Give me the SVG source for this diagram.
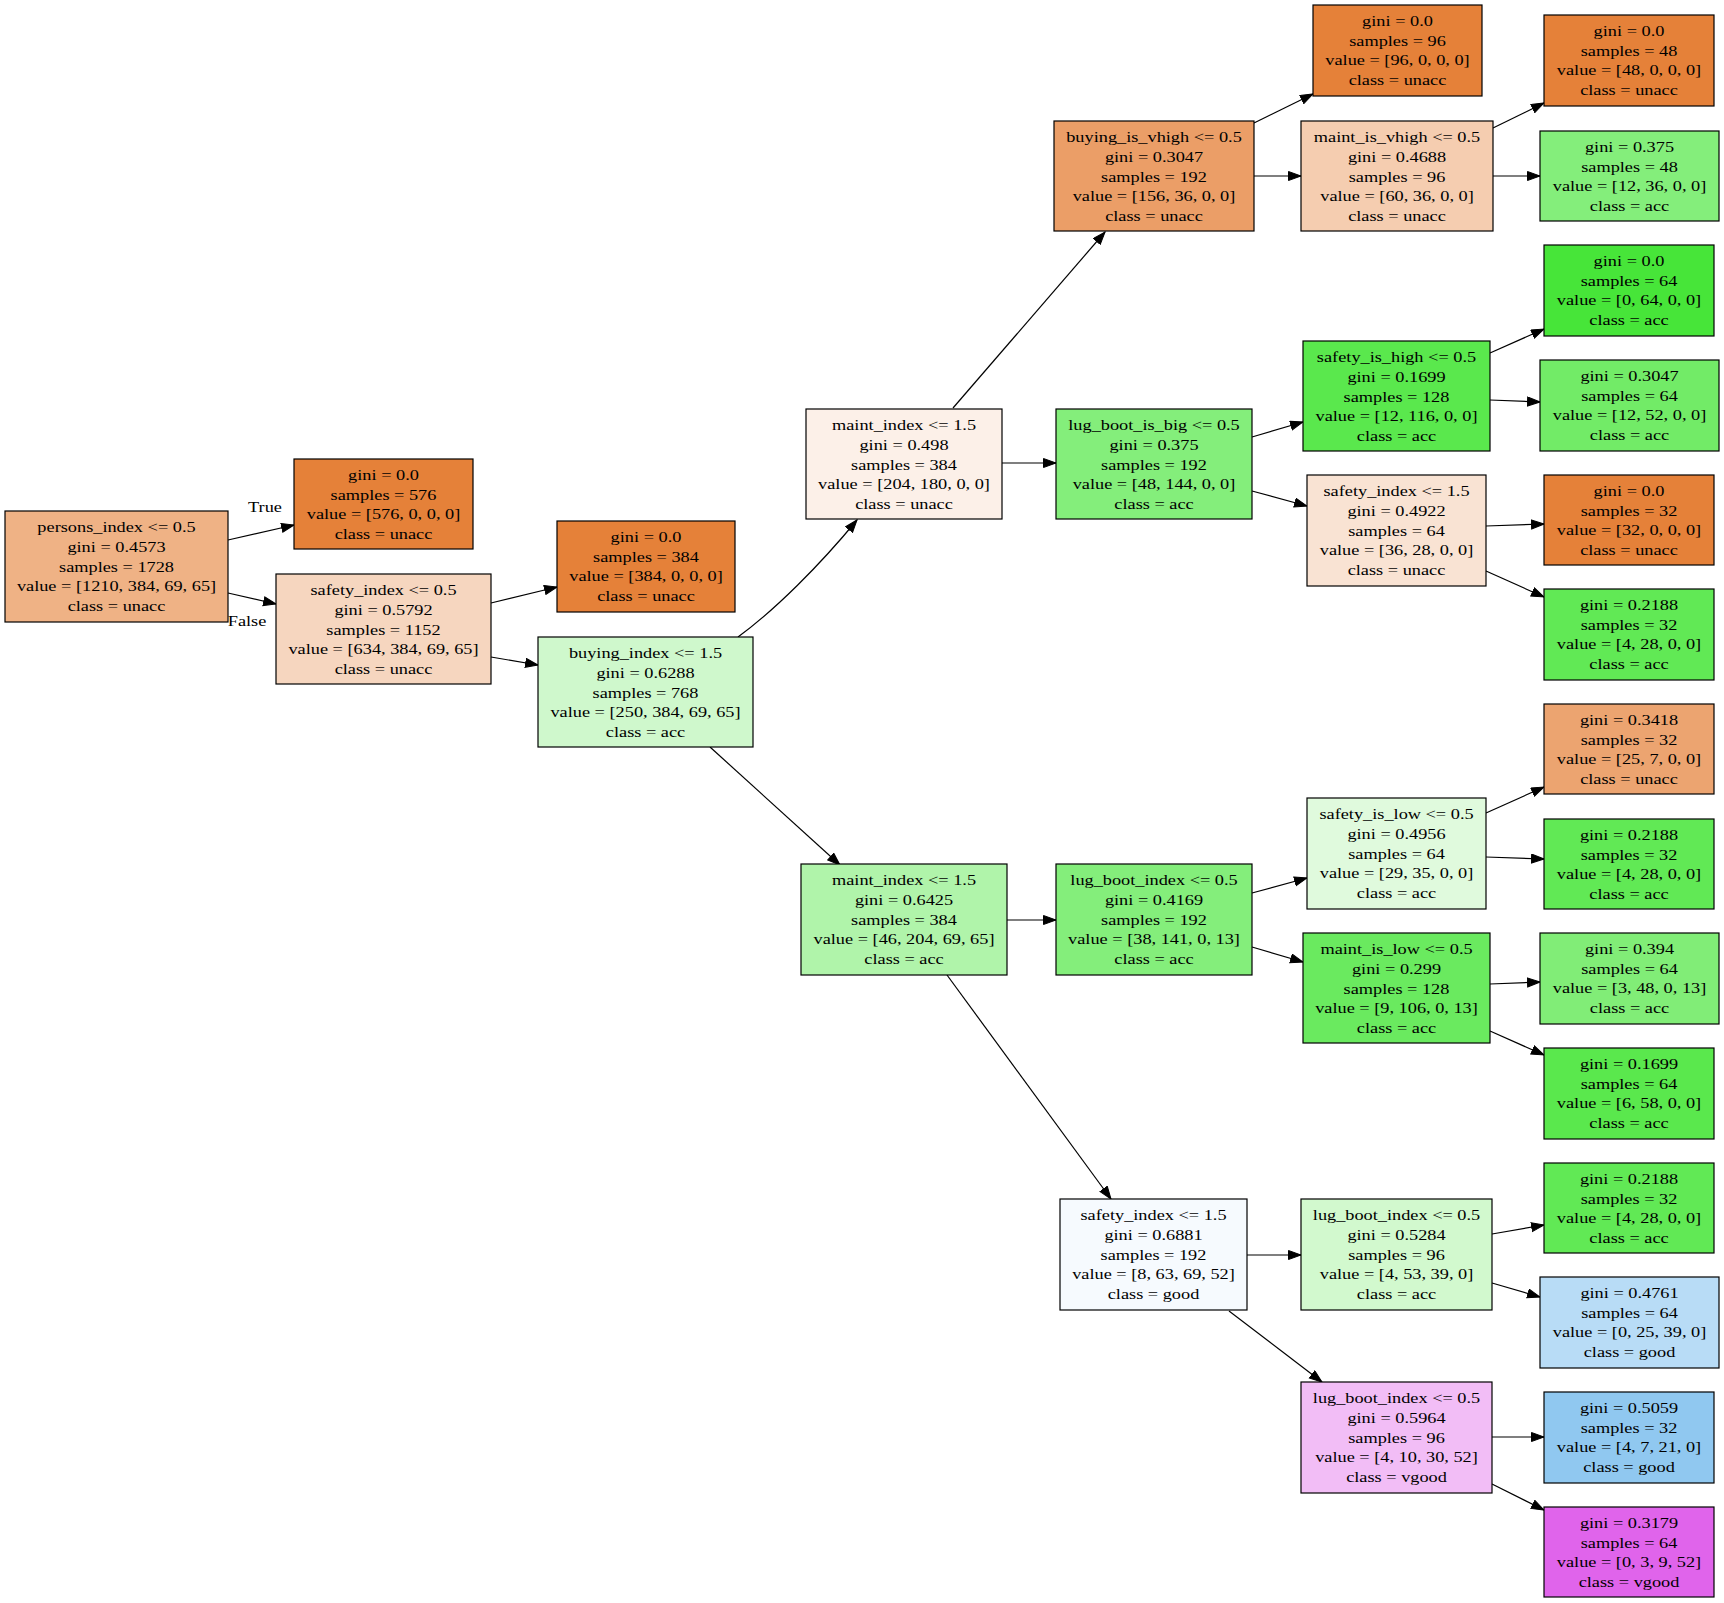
<svg xmlns="http://www.w3.org/2000/svg" width="1724" height="1603" viewBox="0 0 1724 1603">
<defs>
<style>
.nd rect{stroke:#000;stroke-width:1.2}
text{font-family:"Liberation Serif","Times New Roman",serif;font-size:15px;text-anchor:middle;fill:#000}
.e{stroke:#000;stroke-width:1.2;fill:none;marker-end:url(#ah)}
</style>
<marker id="ah" markerUnits="userSpaceOnUse" markerWidth="14" markerHeight="11" refX="13" refY="5" orient="auto"><path d="M0.5,0.5 L13,5 L0.5,9.5 z" fill="#000" stroke="#000" stroke-width="1"/></marker>
</defs>
<rect x="0" y="0" width="1724" height="1603" fill="#fff"/>
<g id="edges">
<line class="e" x1="228" y1="540" x2="294" y2="525"/>
<line class="e" x1="228" y1="593" x2="276" y2="604"/>
<line class="e" x1="491" y1="603" x2="557" y2="587"/>
<line class="e" x1="491" y1="657" x2="538" y2="665"/>
<path class="e" d="M738,637 C775,610 820,565 857,520"/>
<line class="e" x1="710" y1="747" x2="840" y2="865"/>
<line class="e" x1="953" y1="408" x2="1105" y2="232"/>
<line class="e" x1="1002" y1="463" x2="1056" y2="463"/>
<line class="e" x1="1007" y1="920" x2="1056" y2="920"/>
<line class="e" x1="947" y1="975" x2="1111" y2="1199"/>
<line class="e" x1="1254" y1="123" x2="1313" y2="94"/>
<line class="e" x1="1254" y1="176" x2="1301" y2="176"/>
<line class="e" x1="1493" y1="128" x2="1544" y2="103"/>
<line class="e" x1="1493" y1="176" x2="1540" y2="176"/>
<line class="e" x1="1252" y1="437" x2="1303" y2="422"/>
<line class="e" x1="1252" y1="491" x2="1307" y2="506"/>
<line class="e" x1="1490" y1="353" x2="1544" y2="329"/>
<line class="e" x1="1490" y1="400" x2="1540" y2="402"/>
<line class="e" x1="1486" y1="526" x2="1544" y2="524"/>
<line class="e" x1="1486" y1="571" x2="1544" y2="597"/>
<line class="e" x1="1252" y1="893" x2="1307" y2="878"/>
<line class="e" x1="1252" y1="947" x2="1303" y2="962"/>
<line class="e" x1="1486" y1="813" x2="1544" y2="787"/>
<line class="e" x1="1486" y1="857" x2="1544" y2="859"/>
<line class="e" x1="1490" y1="984" x2="1540" y2="982"/>
<line class="e" x1="1490" y1="1031" x2="1544" y2="1055"/>
<line class="e" x1="1247" y1="1255" x2="1301" y2="1255"/>
<line class="e" x1="1229" y1="1311" x2="1322" y2="1382"/>
<line class="e" x1="1492" y1="1234" x2="1544" y2="1225"/>
<line class="e" x1="1492" y1="1283" x2="1540" y2="1297"/>
<line class="e" x1="1492" y1="1437" x2="1544" y2="1437"/>
<line class="e" x1="1492" y1="1484" x2="1544" y2="1510"/>
<g transform="translate(265,0) scale(1.22,1)"><text x="0" y="512">True</text></g>
<g transform="translate(247,0) scale(1.22,1)"><text x="0" y="626">False</text></g>
</g>
<g id="node0" class="nd"><rect x="5" y="511" width="223" height="111" fill="#efb285"/><g transform="translate(116.5,0) scale(1.22,1)"><text y="532.2"><tspan x="0">persons_index &lt;= 0.5</tspan><tspan x="0" dy="19.75">gini = 0.4573</tspan><tspan x="0" dy="19.75">samples = 1728</tspan><tspan x="0" dy="19.75">value = [1210, 384, 69, 65]</tspan><tspan x="0" dy="19.75">class = unacc</tspan></text></g></g>
<g id="node1" class="nd"><rect x="294" y="459" width="179" height="90" fill="#e58139"/><g transform="translate(383.5,0) scale(1.22,1)"><text y="479.9"><tspan x="0">gini = 0.0</tspan><tspan x="0" dy="19.75">samples = 576</tspan><tspan x="0" dy="19.75">value = [576, 0, 0, 0]</tspan><tspan x="0" dy="19.75">class = unacc</tspan></text></g></g>
<g id="node2" class="nd"><rect x="276" y="574" width="215" height="110" fill="#f6d6bf"/><g transform="translate(383.5,0) scale(1.22,1)"><text y="595.2"><tspan x="0">safety_index &lt;= 0.5</tspan><tspan x="0" dy="19.75">gini = 0.5792</tspan><tspan x="0" dy="19.75">samples = 1152</tspan><tspan x="0" dy="19.75">value = [634, 384, 69, 65]</tspan><tspan x="0" dy="19.75">class = unacc</tspan></text></g></g>
<g id="node3" class="nd"><rect x="557" y="521" width="178" height="91" fill="#e58139"/><g transform="translate(646,0) scale(1.22,1)"><text y="541.9"><tspan x="0">gini = 0.0</tspan><tspan x="0" dy="19.75">samples = 384</tspan><tspan x="0" dy="19.75">value = [384, 0, 0, 0]</tspan><tspan x="0" dy="19.75">class = unacc</tspan></text></g></g>
<g id="node4" class="nd"><rect x="538" y="637" width="215" height="110" fill="#cff8cc"/><g transform="translate(645.5,0) scale(1.22,1)"><text y="658.2"><tspan x="0">buying_index &lt;= 1.5</tspan><tspan x="0" dy="19.75">gini = 0.6288</tspan><tspan x="0" dy="19.75">samples = 768</tspan><tspan x="0" dy="19.75">value = [250, 384, 69, 65]</tspan><tspan x="0" dy="19.75">class = acc</tspan></text></g></g>
<g id="node5" class="nd"><rect x="806" y="409" width="196" height="110" fill="#fcf0e8"/><g transform="translate(904,0) scale(1.22,1)"><text y="430.2"><tspan x="0">maint_index &lt;= 1.5</tspan><tspan x="0" dy="19.75">gini = 0.498</tspan><tspan x="0" dy="19.75">samples = 384</tspan><tspan x="0" dy="19.75">value = [204, 180, 0, 0]</tspan><tspan x="0" dy="19.75">class = unacc</tspan></text></g></g>
<g id="node6" class="nd"><rect x="801" y="864" width="206" height="111" fill="#b0f4aa"/><g transform="translate(904,0) scale(1.22,1)"><text y="885.2"><tspan x="0">maint_index &lt;= 1.5</tspan><tspan x="0" dy="19.75">gini = 0.6425</tspan><tspan x="0" dy="19.75">samples = 384</tspan><tspan x="0" dy="19.75">value = [46, 204, 69, 65]</tspan><tspan x="0" dy="19.75">class = acc</tspan></text></g></g>
<g id="node7" class="nd"><rect x="1054" y="121" width="200" height="110" fill="#eb9e67"/><g transform="translate(1154,0) scale(1.22,1)"><text y="142.2"><tspan x="0">buying_is_vhigh &lt;= 0.5</tspan><tspan x="0" dy="19.75">gini = 0.3047</tspan><tspan x="0" dy="19.75">samples = 192</tspan><tspan x="0" dy="19.75">value = [156, 36, 0, 0]</tspan><tspan x="0" dy="19.75">class = unacc</tspan></text></g></g>
<g id="node8" class="nd"><rect x="1056" y="409" width="196" height="110" fill="#84ee7b"/><g transform="translate(1154,0) scale(1.22,1)"><text y="430.2"><tspan x="0">lug_boot_is_big &lt;= 0.5</tspan><tspan x="0" dy="19.75">gini = 0.375</tspan><tspan x="0" dy="19.75">samples = 192</tspan><tspan x="0" dy="19.75">value = [48, 144, 0, 0]</tspan><tspan x="0" dy="19.75">class = acc</tspan></text></g></g>
<g id="node9" class="nd"><rect x="1056" y="864" width="196" height="111" fill="#84ee7b"/><g transform="translate(1154,0) scale(1.22,1)"><text y="885.2"><tspan x="0">lug_boot_index &lt;= 0.5</tspan><tspan x="0" dy="19.75">gini = 0.4169</tspan><tspan x="0" dy="19.75">samples = 192</tspan><tspan x="0" dy="19.75">value = [38, 141, 0, 13]</tspan><tspan x="0" dy="19.75">class = acc</tspan></text></g></g>
<g id="node10" class="nd"><rect x="1060" y="1199" width="187" height="111" fill="#f6fafe"/><g transform="translate(1153.5,0) scale(1.22,1)"><text y="1220.2"><tspan x="0">safety_index &lt;= 1.5</tspan><tspan x="0" dy="19.75">gini = 0.6881</tspan><tspan x="0" dy="19.75">samples = 192</tspan><tspan x="0" dy="19.75">value = [8, 63, 69, 52]</tspan><tspan x="0" dy="19.75">class = good</tspan></text></g></g>
<g id="node11" class="nd"><rect x="1313" y="5" width="169" height="91" fill="#e58139"/><g transform="translate(1397.5,0) scale(1.22,1)"><text y="25.9"><tspan x="0">gini = 0.0</tspan><tspan x="0" dy="19.75">samples = 96</tspan><tspan x="0" dy="19.75">value = [96, 0, 0, 0]</tspan><tspan x="0" dy="19.75">class = unacc</tspan></text></g></g>
<g id="node12" class="nd"><rect x="1301" y="121" width="192" height="110" fill="#f5cdb0"/><g transform="translate(1397,0) scale(1.22,1)"><text y="142.2"><tspan x="0">maint_is_vhigh &lt;= 0.5</tspan><tspan x="0" dy="19.75">gini = 0.4688</tspan><tspan x="0" dy="19.75">samples = 96</tspan><tspan x="0" dy="19.75">value = [60, 36, 0, 0]</tspan><tspan x="0" dy="19.75">class = unacc</tspan></text></g></g>
<g id="node13" class="nd"><rect x="1303" y="341" width="187" height="110" fill="#5ae84d"/><g transform="translate(1396.5,0) scale(1.22,1)"><text y="362.2"><tspan x="0">safety_is_high &lt;= 0.5</tspan><tspan x="0" dy="19.75">gini = 0.1699</tspan><tspan x="0" dy="19.75">samples = 128</tspan><tspan x="0" dy="19.75">value = [12, 116, 0, 0]</tspan><tspan x="0" dy="19.75">class = acc</tspan></text></g></g>
<g id="node14" class="nd"><rect x="1307" y="475" width="179" height="111" fill="#f9e3d3"/><g transform="translate(1396.5,0) scale(1.22,1)"><text y="496.2"><tspan x="0">safety_index &lt;= 1.5</tspan><tspan x="0" dy="19.75">gini = 0.4922</tspan><tspan x="0" dy="19.75">samples = 64</tspan><tspan x="0" dy="19.75">value = [36, 28, 0, 0]</tspan><tspan x="0" dy="19.75">class = unacc</tspan></text></g></g>
<g id="node15" class="nd"><rect x="1307" y="798" width="179" height="111" fill="#e0fadd"/><g transform="translate(1396.5,0) scale(1.22,1)"><text y="819.2"><tspan x="0">safety_is_low &lt;= 0.5</tspan><tspan x="0" dy="19.75">gini = 0.4956</tspan><tspan x="0" dy="19.75">samples = 64</tspan><tspan x="0" dy="19.75">value = [29, 35, 0, 0]</tspan><tspan x="0" dy="19.75">class = acc</tspan></text></g></g>
<g id="node16" class="nd"><rect x="1303" y="933" width="187" height="110" fill="#6aea5f"/><g transform="translate(1396.5,0) scale(1.22,1)"><text y="954.2"><tspan x="0">maint_is_low &lt;= 0.5</tspan><tspan x="0" dy="19.75">gini = 0.299</tspan><tspan x="0" dy="19.75">samples = 128</tspan><tspan x="0" dy="19.75">value = [9, 106, 0, 13]</tspan><tspan x="0" dy="19.75">class = acc</tspan></text></g></g>
<g id="node17" class="nd"><rect x="1301" y="1199" width="191" height="111" fill="#d2f9ce"/><g transform="translate(1396.5,0) scale(1.22,1)"><text y="1220.2"><tspan x="0">lug_boot_index &lt;= 0.5</tspan><tspan x="0" dy="19.75">gini = 0.5284</tspan><tspan x="0" dy="19.75">samples = 96</tspan><tspan x="0" dy="19.75">value = [4, 53, 39, 0]</tspan><tspan x="0" dy="19.75">class = acc</tspan></text></g></g>
<g id="node18" class="nd"><rect x="1301" y="1382" width="191" height="111" fill="#f2bdf6"/><g transform="translate(1396.5,0) scale(1.22,1)"><text y="1403.2"><tspan x="0">lug_boot_index &lt;= 0.5</tspan><tspan x="0" dy="19.75">gini = 0.5964</tspan><tspan x="0" dy="19.75">samples = 96</tspan><tspan x="0" dy="19.75">value = [4, 10, 30, 52]</tspan><tspan x="0" dy="19.75">class = vgood</tspan></text></g></g>
<g id="leaf1" class="nd"><rect x="1544" y="15" width="170" height="91" fill="#e58139"/><g transform="translate(1629,0) scale(1.22,1)"><text y="35.9"><tspan x="0">gini = 0.0</tspan><tspan x="0" dy="19.75">samples = 48</tspan><tspan x="0" dy="19.75">value = [48, 0, 0, 0]</tspan><tspan x="0" dy="19.75">class = unacc</tspan></text></g></g>
<g id="leaf2" class="nd"><rect x="1540" y="131" width="179" height="90" fill="#84ee7b"/><g transform="translate(1629.5,0) scale(1.22,1)"><text y="151.9"><tspan x="0">gini = 0.375</tspan><tspan x="0" dy="19.75">samples = 48</tspan><tspan x="0" dy="19.75">value = [12, 36, 0, 0]</tspan><tspan x="0" dy="19.75">class = acc</tspan></text></g></g>
<g id="leaf3" class="nd"><rect x="1544" y="245" width="170" height="91" fill="#47e539"/><g transform="translate(1629,0) scale(1.22,1)"><text y="265.9"><tspan x="0">gini = 0.0</tspan><tspan x="0" dy="19.75">samples = 64</tspan><tspan x="0" dy="19.75">value = [0, 64, 0, 0]</tspan><tspan x="0" dy="19.75">class = acc</tspan></text></g></g>
<g id="leaf4" class="nd"><rect x="1540" y="360" width="179" height="91" fill="#72eb67"/><g transform="translate(1629.5,0) scale(1.22,1)"><text y="380.9"><tspan x="0">gini = 0.3047</tspan><tspan x="0" dy="19.75">samples = 64</tspan><tspan x="0" dy="19.75">value = [12, 52, 0, 0]</tspan><tspan x="0" dy="19.75">class = acc</tspan></text></g></g>
<g id="leaf5" class="nd"><rect x="1544" y="475" width="170" height="90" fill="#e58139"/><g transform="translate(1629,0) scale(1.22,1)"><text y="495.9"><tspan x="0">gini = 0.0</tspan><tspan x="0" dy="19.75">samples = 32</tspan><tspan x="0" dy="19.75">value = [32, 0, 0, 0]</tspan><tspan x="0" dy="19.75">class = unacc</tspan></text></g></g>
<g id="leaf6" class="nd"><rect x="1544" y="589" width="170" height="91" fill="#61e955"/><g transform="translate(1629,0) scale(1.22,1)"><text y="609.9"><tspan x="0">gini = 0.2188</tspan><tspan x="0" dy="19.75">samples = 32</tspan><tspan x="0" dy="19.75">value = [4, 28, 0, 0]</tspan><tspan x="0" dy="19.75">class = acc</tspan></text></g></g>
<g id="leaf7" class="nd"><rect x="1544" y="704" width="170" height="90" fill="#eca470"/><g transform="translate(1629,0) scale(1.22,1)"><text y="724.9"><tspan x="0">gini = 0.3418</tspan><tspan x="0" dy="19.75">samples = 32</tspan><tspan x="0" dy="19.75">value = [25, 7, 0, 0]</tspan><tspan x="0" dy="19.75">class = unacc</tspan></text></g></g>
<g id="leaf8" class="nd"><rect x="1544" y="819" width="170" height="90" fill="#61e955"/><g transform="translate(1629,0) scale(1.22,1)"><text y="839.9"><tspan x="0">gini = 0.2188</tspan><tspan x="0" dy="19.75">samples = 32</tspan><tspan x="0" dy="19.75">value = [4, 28, 0, 0]</tspan><tspan x="0" dy="19.75">class = acc</tspan></text></g></g>
<g id="leaf9" class="nd"><rect x="1540" y="933" width="179" height="91" fill="#81ed77"/><g transform="translate(1629.5,0) scale(1.22,1)"><text y="953.9"><tspan x="0">gini = 0.394</tspan><tspan x="0" dy="19.75">samples = 64</tspan><tspan x="0" dy="19.75">value = [3, 48, 0, 13]</tspan><tspan x="0" dy="19.75">class = acc</tspan></text></g></g>
<g id="leaf10" class="nd"><rect x="1544" y="1048" width="170" height="91" fill="#5ae84d"/><g transform="translate(1629,0) scale(1.22,1)"><text y="1068.9"><tspan x="0">gini = 0.1699</tspan><tspan x="0" dy="19.75">samples = 64</tspan><tspan x="0" dy="19.75">value = [6, 58, 0, 0]</tspan><tspan x="0" dy="19.75">class = acc</tspan></text></g></g>
<g id="leaf11" class="nd"><rect x="1544" y="1163" width="170" height="90" fill="#61e955"/><g transform="translate(1629,0) scale(1.22,1)"><text y="1183.9"><tspan x="0">gini = 0.2188</tspan><tspan x="0" dy="19.75">samples = 32</tspan><tspan x="0" dy="19.75">value = [4, 28, 0, 0]</tspan><tspan x="0" dy="19.75">class = acc</tspan></text></g></g>
<g id="leaf12" class="nd"><rect x="1540" y="1277" width="179" height="91" fill="#b8dcf6"/><g transform="translate(1629.5,0) scale(1.22,1)"><text y="1297.9"><tspan x="0">gini = 0.4761</tspan><tspan x="0" dy="19.75">samples = 64</tspan><tspan x="0" dy="19.75">value = [0, 25, 39, 0]</tspan><tspan x="0" dy="19.75">class = good</tspan></text></g></g>
<g id="leaf13" class="nd"><rect x="1544" y="1392" width="170" height="91" fill="#90c8f0"/><g transform="translate(1629,0) scale(1.22,1)"><text y="1412.9"><tspan x="0">gini = 0.5059</tspan><tspan x="0" dy="19.75">samples = 32</tspan><tspan x="0" dy="19.75">value = [4, 7, 21, 0]</tspan><tspan x="0" dy="19.75">class = good</tspan></text></g></g>
<g id="leaf14" class="nd"><rect x="1544" y="1507" width="170" height="90" fill="#e064eb"/><g transform="translate(1629,0) scale(1.22,1)"><text y="1527.9"><tspan x="0">gini = 0.3179</tspan><tspan x="0" dy="19.75">samples = 64</tspan><tspan x="0" dy="19.75">value = [0, 3, 9, 52]</tspan><tspan x="0" dy="19.75">class = vgood</tspan></text></g></g>
</svg>
